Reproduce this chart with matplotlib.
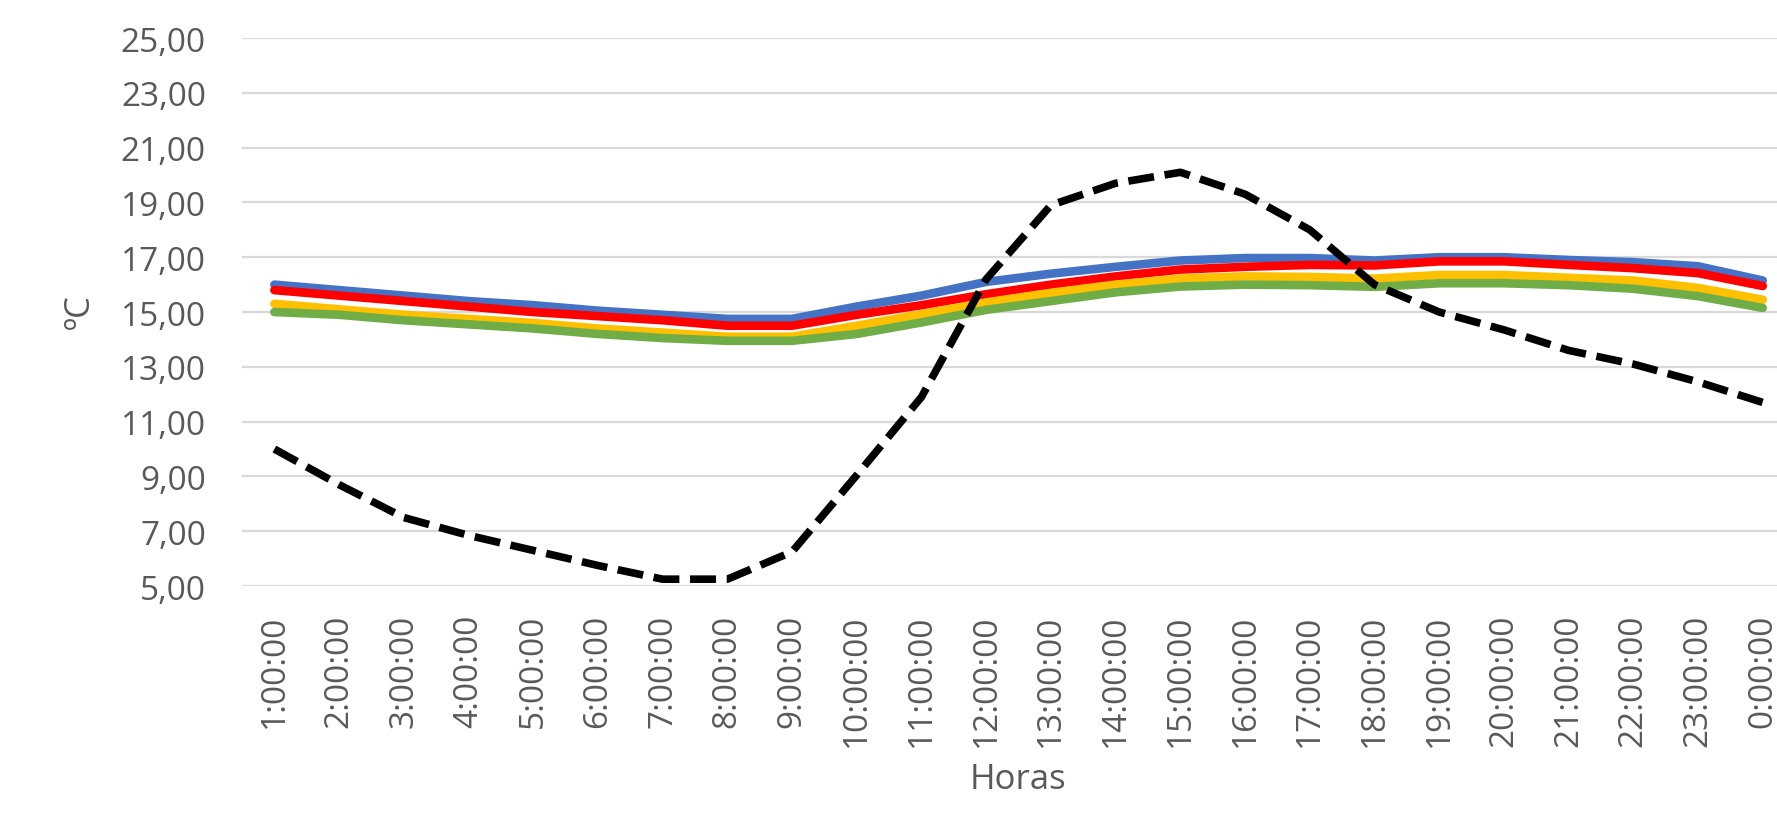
import matplotlib.pyplot as plt

horas = ['1:00:00', '2:00:00', '3:00:00', '4:00:00', '5:00:00', '6:00:00',
         '7:00:00', '8:00:00', '9:00:00', '10:00:00', '11:00:00', '12:00:00',
         '13:00:00', '14:00:00', '15:00:00', '16:00:00', '17:00:00', '18:00:00',
         '19:00:00', '20:00:00', '21:00:00', '22:00:00', '23:00:00', '0:00:00']

serie_azul = [16.0, 15.8, 15.6, 15.4, 15.25, 15.05, 14.9, 14.75, 14.75, 15.2,
              15.6, 16.1, 16.4, 16.65, 16.88, 16.97, 16.97, 16.88, 17.0, 17.0,
              16.9, 16.82, 16.67, 16.15]
serie_roja = [15.8, 15.6, 15.4, 15.2, 15.0, 14.85, 14.7, 14.5, 14.5, 14.9,
              15.25, 15.65, 16.0, 16.3, 16.55, 16.65, 16.72, 16.7, 16.85, 16.85,
              16.72, 16.6, 16.42, 15.95]
serie_amarilla = [15.3, 15.1, 14.9, 14.75, 14.6, 14.4, 14.25, 14.1, 14.1, 14.5,
                  14.92, 15.35, 15.7, 16.0, 16.22, 16.3, 16.28, 16.22, 16.35, 16.35,
                  16.25, 16.15, 15.88, 15.45]
serie_verde = [15.0, 14.9, 14.7, 14.55, 14.4, 14.2, 14.05, 13.95, 13.95, 14.2,
               14.62, 15.08, 15.4, 15.72, 15.93, 16.0, 15.98, 15.92, 16.05, 16.05,
               15.98, 15.85, 15.58, 15.15]
t_exterior = [10.0, 8.7, 7.5, 6.85, 6.3, 5.75, 5.25, 5.25, 6.25, 9.05,
              11.9, 16.2, 18.9, 19.7, 20.1, 19.3, 18.0, 16.0, 15.0, 14.35,
              13.6, 13.1, 12.45, 11.7]

gris = '#595959'
fuente = 'Open Sans'

fig = plt.figure(figsize=(17.77, 8.2), dpi=100)
# el area de trazado se sale un poco por la derecha
ax = fig.add_axes([0.1362, 0.2841, 0.874, 0.6683])

x = range(len(horas))
ax.plot(x, serie_azul, color='#4472C4', linewidth=6.2, solid_capstyle='round', solid_joinstyle='round')
ax.plot(x, serie_roja, color='#FF0000', linewidth=6.2, solid_capstyle='round', solid_joinstyle='round')
ax.plot(x, serie_amarilla, color='#FFC000', linewidth=6.2, solid_capstyle='round', solid_joinstyle='round')
ax.plot(x, serie_verde, color='#70AD47', linewidth=6.2, solid_capstyle='round', solid_joinstyle='round')
ax.plot(x, t_exterior, color='black', linewidth=5.5, dashes=(3.4, 1.4), dash_capstyle='butt')

ax.set_xlim(-0.5, len(horas) - 0.5)
ax.set_ylim(5, 25)

yticks = list(range(5, 26, 2))
ax.set_yticks(yticks)
ax.set_yticklabels([f'{v:.2f}'.replace('.', ',') for v in yticks])
ax.set_xticks(list(x))
ax.set_xticklabels(horas, rotation=90)

ax.tick_params(axis='y', length=0, pad=26, labelsize=24, labelcolor=gris)
ax.tick_params(axis='x', length=0, pad=20, labelsize=24, labelcolor=gris)
for lbl in ax.get_xticklabels() + ax.get_yticklabels():
    lbl.set_fontfamily(fuente)

ax.grid(axis='y', color='#D9D9D9', linewidth=1.6)
ax.set_axisbelow(True)
for s in ax.spines.values():
    s.set_visible(False)

fig.text(0.5726, 0.049, 'Horas', ha='center', va='center', fontsize=25, color=gris, family=fuente)
fig.text(0.045, 0.62, 'ºC', ha='center', va='center', rotation=90, fontsize=25, color=gris, family=fuente)

fig.savefig('out.png', dpi=100)
